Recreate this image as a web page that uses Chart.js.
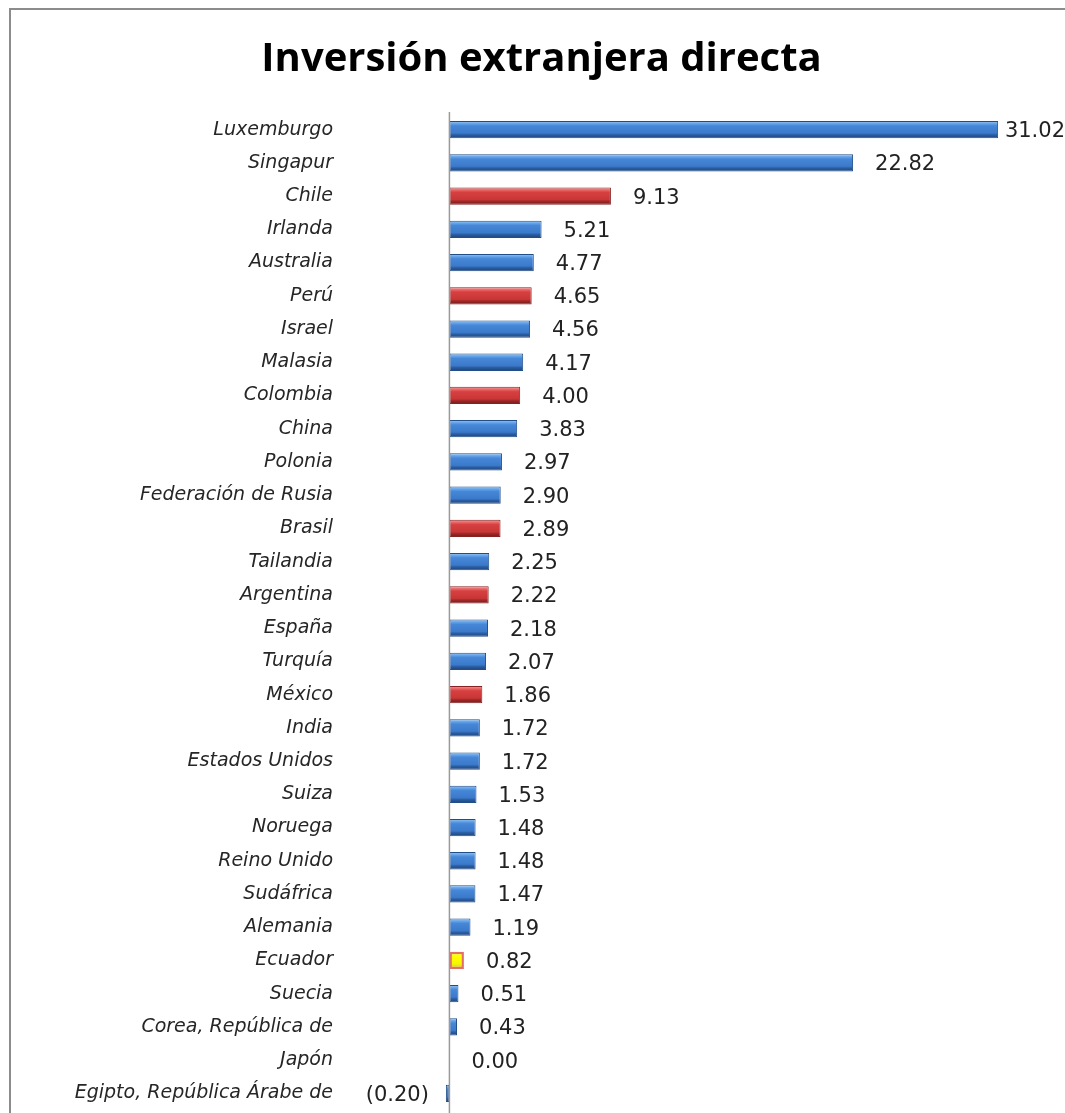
<!DOCTYPE html>
<html>
<head>
<meta charset="utf-8">
<script src="https://cdn.jsdelivr.net/npm/chart.js@4.4.1/dist/chart.umd.min.js"></script>
<style>
  html, body { margin: 0; padding: 0; background: #fff; }
  #wrap { width: 1065px; height: 1113px; position: relative; }
</style>
</head>
<body>
<div id="wrap"><canvas id="fdiChart" width="1065" height="1113"></canvas></div>
<script>
// datos: inversión extranjera directa (% del PIB)
const countries = [
  'Luxemburgo', 'Singapur', 'Chile', 'Irlanda', 'Australia', 'Perú', 'Israel', 'Malasia',
  'Colombia', 'China', 'Polonia', 'Federación de Rusia', 'Brasil', 'Tailandia', 'Argentina',
  'España', 'Turquía', 'México', 'India', 'Estados Unidos', 'Suiza', 'Noruega', 'Reino Unido',
  'Sudáfrica', 'Alemania', 'Ecuador', 'Suecia', 'Corea, República de', 'Japón',
  'Egipto, República Árabe de'
];
const values = [
  31.02, 22.82, 9.13, 5.21, 4.77, 4.65, 4.56, 4.17,
  4.00, 3.83, 2.97, 2.90, 2.89, 2.25, 2.22,
  2.18, 2.07, 1.86, 1.72, 1.72, 1.53, 1.48, 1.48,
  1.47, 1.19, 0.82, 0.51, 0.43, 0.00,
  -0.20
];
const latam = ['Chile', 'Perú', 'Colombia', 'Brasil', 'Argentina', 'México'];
const highlight = ['Ecuador'];

const BAR_PCT = 0.52;
const palettes = {
  blue: { stops: ['#9cc9f5', '#62a2e8', '#4787d7', '#3b7acb', '#2b5ea3', '#1d437c'], border: '#224e88' },
  red: { stops: ['#f4a0a0', '#e86464', '#d74040', '#c93636', '#a02828', '#701a1a'], border: '#862222' },
  yellow: { stops: ['#ffff40', '#ffff00', '#ffff00', '#f6f600', '#e8e800', '#d6d600'], border: '#e27068' }
};

function paletteFor(i) {
  if (highlight.includes(countries[i])) return palettes.yellow;
  if (latam.includes(countries[i])) return palettes.red;
  return palettes.blue;
}

function fmt(v) {
  const s = Math.abs(v).toFixed(2);
  return v < 0 ? '(' + s + ')' : s;
}

function barFill(c) {
  const pal = paletteFor(c.dataIndex);
  const y = c.chart.scales && c.chart.scales.y;
  if (!y || isNaN(y.getPixelForValue(0))) return pal.stops[2];
  const mid = y.getPixelForValue(c.dataIndex);
  const step = y.getPixelForValue(1) - y.getPixelForValue(0);
  const h = step * BAR_PCT;
  const g = c.chart.ctx.createLinearGradient(0, mid - h / 2, 0, mid + h / 2);
  const pos = [0, 0.16, 0.28, 0.7, 0.8, 1];
  pal.stops.forEach((col, k) => g.addColorStop(pos[k], col));
  return g;
}

// marco y eje vertical en cero
const frame = {
  id: 'frame',
  beforeDraw(chart) {
    const ctx = chart.ctx;
    ctx.save();
    ctx.strokeStyle = '#8c8c8c';
    ctx.lineWidth = 2;
    ctx.strokeRect(10, 9, chart.width + 20, chart.height + 20);
    ctx.restore();
  },
  afterDatasetsDraw(chart) {
    const ctx = chart.ctx;
    const x0 = chart.scales.x.getPixelForValue(0);
    ctx.save();
    ctx.strokeStyle = '#9a9a9a';
    ctx.lineWidth = 1.5;
    ctx.beginPath();
    ctx.moveTo(x0, chart.chartArea.top - 1);
    ctx.lineTo(x0, chart.height);
    ctx.stroke();
    ctx.restore();
  }
};

// etiquetas de valores
const valueLabels = {
  id: 'valueLabels',
  afterDatasetsDraw(chart) {
    const ctx = chart.ctx;
    const meta = chart.getDatasetMeta(0);
    ctx.save();
    ctx.font = '21px "DejaVu Sans"';
    ctx.fillStyle = '#222';
    ctx.textBaseline = 'middle';
    meta.data.forEach((bar, i) => {
      const v = values[i];
      const txt = fmt(v);
      const w = ctx.measureText(txt).width;
      if (v < 0) {
        ctx.textAlign = 'right';
        ctx.fillText(txt, bar.x - 17, bar.y + 2);
      } else {
        ctx.textAlign = 'left';
        const x = Math.min(bar.x + 22, chart.width - w);
        ctx.fillText(txt, x, bar.y + 2);
      }
    });
    ctx.restore();
  }
};

new Chart(document.getElementById('fdiChart'), {
  type: 'bar',
  data: {
    labels: countries,
    datasets: [{
      data: values,
      backgroundColor: barFill,
      borderColor: c => paletteFor(c.dataIndex).border,
      borderWidth: c => highlight.includes(countries[c.dataIndex]) ? 2.5 : 1,
      borderSkipped: false,
      barPercentage: BAR_PCT,
      categoryPercentage: 1.0
    }]
  },
  options: {
    indexAxis: 'y',
    responsive: false,
    animation: false,
    layout: { padding: { left: 18, right: 0, top: 0, bottom: 3 } },
    plugins: {
      legend: { display: false },
      tooltip: { enabled: false },
      title: {
        display: true,
        text: 'Inversión extranjera directa',
        color: '#000',
        font: { family: 'Open Sans', size: 40, weight: 'bold' },
        padding: { top: 36, bottom: 29 }
      }
    },
    scales: {
      x: {
        min: -0.25,
        max: 34.8,
        display: false,
        grid: { display: false }
      },
      y: {
        grid: { display: false, drawTicks: false },
        border: { display: false },
        afterFit(scale) {
          scale.width = 427;
          scale.paddingTop = 0;
          scale.paddingBottom = 0;
        },
        ticks: {
          padding: 112,
          color: '#262626',
          font: { family: 'DejaVu Sans', size: 19, style: 'italic' }
        }
      }
    }
  },
  plugins: [frame, valueLabels]
});
</script>
</body>
</html>
